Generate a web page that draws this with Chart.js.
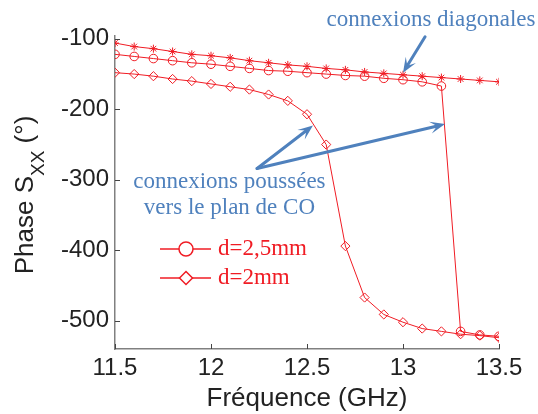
<!DOCTYPE html>
<html>
<head>
<meta charset="utf-8">
<script src="https://cdn.jsdelivr.net/npm/chart.js@4.4.1/dist/chart.umd.min.js"></script>
<style>
  html, body { margin: 0; padding: 0; background: #fff; }
  #wrap { width: 538px; height: 414px; }
</style>
</head>
<body>
<div id="wrap"><canvas id="chart" width="538" height="414"></canvas></div>
<script>
// fréquences (GHz)
const freq = [11.5, 11.6, 11.7, 11.8, 11.9, 12.0, 12.1, 12.2, 12.3, 12.4, 12.5,
              12.6, 12.7, 12.8, 12.9, 13.0, 13.1, 13.2, 13.3, 13.4, 13.5];

// phase Sxx (°) - courbe étoiles (connexions diagonales)
const phaseDiag = [-106, -111, -114, -118, -122, -124, -127, -131, -134, -137, -139,
                   -142, -144, -147, -149, -151, -153, -155, -157, -159, -161];
// d=2,5mm
const phase25 = [-122, -125, -128, -131, -134, -136, -139, -142, -145, -146, -148,
                 -150, -152, -153, -156, -158, -161, -167, -515, -520, -522];
// d=2mm
const phase2 = [-148, -150, -153, -157, -160, -164, -168, -172, -179, -188, -207,
                -250, -394, -467, -491, -502, -511, -515, -519, -521, -524];

const xTicks = [11.5, 12, 12.5, 13, 13.5];
const yTicks = [-500, -400, -300, -200, -100];
const legendLabels = ['d=2,5mm', 'd=2mm'];

const rouge = 'rgb(240,28,36)';
const bleu = '#4f81bd';
const gris = '#808080';

function serie(vals) {
    return freq.map((f, i) => ({ x: f, y: vals[i] }));
}

function fleche(ctx, x0, y0, x1, y1) {
    const a = Math.atan2(y1 - y0, x1 - x0);
    const c = Math.cos(a), s = Math.sin(a);
    const L = 15, W = 6;
    ctx.beginPath();
    ctx.moveTo(x0, y0);
    ctx.lineTo(x1 - c * L * 0.6, y1 - s * L * 0.6);
    ctx.stroke();
    ctx.beginPath();
    ctx.moveTo(x1, y1);
    ctx.lineTo(x1 - L * c + W * s, y1 - L * s - W * c);
    ctx.lineTo(x1 - 0.55 * L * c, y1 - 0.55 * L * s);
    ctx.lineTo(x1 - L * c - W * s, y1 - L * s + W * c);
    ctx.closePath();
    ctx.fill();
}

const habillage = {
    id: 'habillage',
    afterDraw(chart) {
        const ctx = chart.ctx;
        const xs = chart.scales.x, ys = chart.scales.y;
        const area = chart.chartArea;
        const X = v => xs.getPixelForValue(v);
        const Y = v => ys.getPixelForValue(v);

        // petits traits de graduation vers l'intérieur
        ctx.save();
        ctx.strokeStyle = '#444';
        ctx.lineWidth = 1;
        yTicks.forEach(v => {
            const py = Math.round(Y(v)) + 0.5;
            ctx.beginPath(); ctx.moveTo(area.left, py); ctx.lineTo(area.left + 5, py); ctx.stroke();
        });
        xTicks.forEach(v => {
            const px = Math.round(X(v)) + 0.5;
            ctx.beginPath(); ctx.moveTo(px, area.bottom); ctx.lineTo(px, area.bottom - 5); ctx.stroke();
        });
        ctx.restore();

        // titre axe x
        ctx.save();
        ctx.fillStyle = '#222';
        ctx.font = '26px "Liberation Sans", Arial, sans-serif';
        ctx.textAlign = 'center';
        ctx.textBaseline = 'alphabetic';
        ctx.fillText('Fréquence (GHz)', (area.left + area.right) / 2, 406);
        ctx.restore();

        // titre axe y avec indice XX
        ctx.save();
        ctx.fillStyle = '#222';
        ctx.translate(33, 195);
        ctx.rotate(-Math.PI / 2);
        ctx.textBaseline = 'alphabetic';
        const fBig = '26px "Liberation Sans", Arial, sans-serif';
        const fSub = '19px "Liberation Sans", Arial, sans-serif';
        ctx.font = fBig;
        const w1 = ctx.measureText('Phase S').width;
        const w3 = ctx.measureText(' (°)').width;
        ctx.font = fSub;
        const w2 = ctx.measureText('XX').width;
        let x0 = -(w1 + w2 + w3) / 2;
        ctx.font = fBig; ctx.fillText('Phase S', x0, 0);
        ctx.font = fSub; ctx.fillText('XX', x0 + w1, 11);
        ctx.font = fBig; ctx.fillText(' (°)', x0 + w1 + w2, 0);
        ctx.restore();

        // annotations
        ctx.save();
        ctx.strokeStyle = bleu;
        ctx.fillStyle = bleu;
        ctx.lineWidth = 3;
        ctx.lineCap = 'round';
        fleche(ctx, X(13.115), Y(-97), X(13.0), Y(-148));
        fleche(ctx, X(12.24), Y(-284), X(12.531), Y(-223));
        fleche(ctx, X(12.24), Y(-284), X(13.219), Y(-221));
        ctx.font = '23px "Liberation Serif", "Times New Roman", serif';
        ctx.textAlign = 'center';
        ctx.textBaseline = 'alphabetic';
        ctx.fillText('connexions diagonales', X(13.146), Y(-82));
        ctx.fillText('connexions poussées', X(12.096), Y(-311));
        ctx.fillText('vers le plan de CO', X(12.096), Y(-348));
        ctx.restore();

        // légende
        ctx.save();
        const styles = ['circle', 'rectRot'];
        const tailles = [7, 6.5];
        const rows = [249, 278];
        ctx.strokeStyle = rouge;
        ctx.fillStyle = rouge;
        ctx.lineWidth = 1.5;
        legendLabels.forEach((lab, i) => {
            const y = rows[i];
            ctx.beginPath(); ctx.moveTo(160, y); ctx.lineTo(211, y); ctx.stroke();
            ctx.fillStyle = '#fff';
            Chart.helpers.drawPoint(ctx, { pointStyle: styles[i], rotation: 0, radius: tailles[i], borderWidth: 1.5 }, 186, y);
            ctx.fillStyle = rouge;
            ctx.font = '23px "Liberation Serif", "Times New Roman", serif';
            ctx.textAlign = 'left';
            ctx.textBaseline = 'middle';
            ctx.fillText(lab, 218, y);
        });
        ctx.restore();
    }
};

const ctx = document.getElementById('chart').getContext('2d');
const myChart = new Chart(ctx, {
    type: 'line',
    data: {
        datasets: [
            {
                label: 'diag',
                data: serie(phaseDiag),
                borderColor: rouge,
                backgroundColor: rouge,
                borderWidth: 1,
                pointStyle: 'star',
                pointRadius: 4,
                pointBorderWidth: 1,
                tension: 0,
            },
            {
                label: legendLabels[0],
                data: serie(phase25),
                borderColor: rouge,
                backgroundColor: 'rgba(0,0,0,0)',
                borderWidth: 1,
                pointStyle: 'circle',
                pointRadius: 4.3,
                pointBorderWidth: 1,
                tension: 0,
            },
            {
                label: legendLabels[1],
                data: serie(phase2),
                borderColor: rouge,
                backgroundColor: 'rgba(0,0,0,0)',
                borderWidth: 1,
                pointStyle: 'rectRot',
                pointRadius: 4.6,
                pointBorderWidth: 1,
                tension: 0,
            },
        ]
    },
    options: {
        responsive: false,
        animation: false,
        events: [],
        layout: { padding: { top: 36, right: 39, left: 0, bottom: 0 } },
        plugins: {
            legend: { display: false },
            tooltip: { enabled: false },
        },
        scales: {
            x: {
                type: 'linear',
                min: 11.5,
                max: 13.5,
                afterFit: s => { s.height = 65; },
                afterBuildTicks: s => { s.ticks = xTicks.map(v => ({ value: v })); },
                grid: { display: false, drawTicks: false },
                border: { display: true, color: gris, width: 1.5 },
                ticks: {
                    padding: 5,
                    color: '#222',
                    maxRotation: 0,
                    font: { family: '"Liberation Sans", Arial, sans-serif', size: 24 },
                    callback: v => String(v),
                },
            },
            y: {
                min: -540,
                max: -96,
                afterFit: s => { s.width = 115; },
                afterBuildTicks: s => { s.ticks = yTicks.map(v => ({ value: v })); },
                grid: { display: false, drawTicks: false },
                border: { display: true, color: gris, width: 1.5 },
                ticks: {
                    padding: 6,
                    color: '#222',
                    font: { family: '"Liberation Sans", Arial, sans-serif', size: 24 },
                    callback: v => String(v),
                },
            },
        },
    },
    plugins: [habillage],
});
</script>
</body>
</html>
